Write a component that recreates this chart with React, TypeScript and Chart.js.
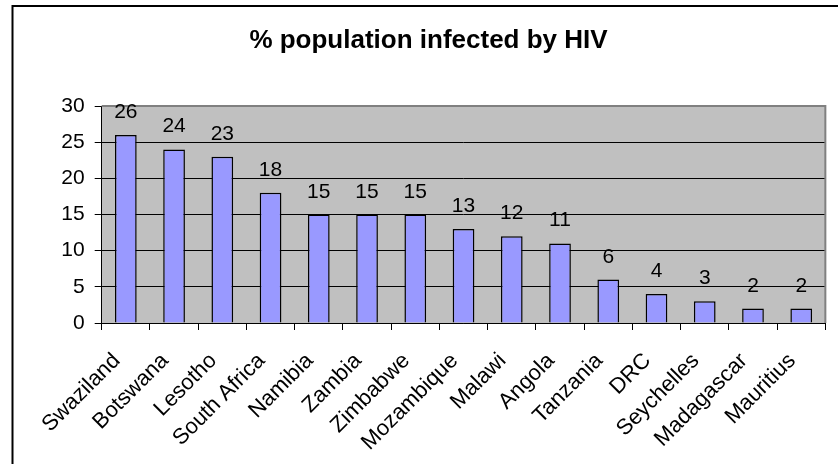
import React, { useEffect, useRef } from "react";
import { Chart, registerables } from "chart.js";

Chart.register(...registerables);

const countries = [
  "Swaziland", "Botswana", "Lesotho", "South Africa", "Namibia", "Zambia", "Zimbabwe",
  "Mozambique", "Malawi", "Angola", "Tanzania", "DRC", "Seychelles", "Madagascar", "Mauritius",
];
const infectedPercent = [26, 24, 23, 18, 15, 15, 15, 13, 12, 11, 6, 4, 3, 2, 2];
const yTicks = [0, 5, 10, 15, 20, 25, 30];
const chartTitle = "% population infected by HIV";

const FONT = "'Liberation Sans', Arial, sans-serif";

export default function App() {
  const ref = useRef<HTMLCanvasElement>(null);

  useEffect(() => {
    if (!ref.current) return;

    const decor = {
      id: "decor",
      beforeDraw(chart: any) {
        const { ctx, chartArea: a } = chart;
        ctx.save();
        ctx.fillStyle = "#C0C0C0";
        ctx.fillRect(a.left, a.top, a.right - a.left, a.bottom - a.top);
        ctx.restore();
      },
      beforeDatasetsDraw(chart: any) {
        const { ctx, chartArea: a } = chart;
        ctx.save();
        ctx.strokeStyle = "#808080";
        ctx.lineWidth = 2;
        ctx.beginPath();
        ctx.moveTo(a.left, a.top);
        ctx.lineTo(a.right, a.top);
        ctx.lineTo(a.right, a.bottom);
        ctx.stroke();
        ctx.restore();
      },
      afterDatasetsDraw(chart: any) {
        const { ctx } = chart;
        const meta = chart.getDatasetMeta(0);
        ctx.save();
        ctx.fillStyle = "#000";
        ctx.font = `21px ${FONT}`;
        ctx.textAlign = "center";
        ctx.textBaseline = "alphabetic";
        meta.data.forEach((bar: any, i: number) => {
          ctx.fillText(String(infectedPercent[i]), bar.x, bar.y - 17);
        });
        ctx.restore();
      },
      afterDraw(chart: any) {
        const { ctx } = chart;
        ctx.save();
        ctx.strokeStyle = "#000";
        ctx.lineWidth = 2;
        ctx.strokeRect(12.5, 6, 1000, 1000);
        ctx.restore();
      },
    };

    const chart = new Chart(ref.current, {
      type: "bar",
      data: {
        labels: countries,
        datasets: [
          {
            data: infectedPercent,
            backgroundColor: "#9999FF",
            borderColor: "#000",
            borderWidth: 1.5,
            categoryPercentage: 1,
            barPercentage: 0.45,
          },
        ],
      },
      options: {
        animation: false,
        responsive: false,
        layout: { padding: { left: 22, right: 3, top: 0, bottom: 0 } },
        plugins: {
          legend: { display: false },
          tooltip: { enabled: false },
          title: {
            display: true,
            text: chartTitle,
            color: "#000",
            font: { family: FONT, size: 26, weight: "bold", lineHeight: 1.2 },
            padding: { top: 25, bottom: 49.8 },
          },
        },
        scales: {
          x: {
            type: "category",
            offset: true,
            grid: {
              offset: true,
              drawOnChartArea: false,
              drawTicks: true,
              tickLength: 7,
              color: "#000",
            },
            border: { color: "#000", width: 1 },
            ticks: {
              autoSkip: false,
              maxRotation: 45,
              minRotation: 45,
              padding: 18,
              labelOffset: -9,
              color: "#000",
              font: { family: FONT, size: 22 },
            },
            afterFit: (scale: any) => {
              scale.height = 141;
            },
          },
          y: {
            min: 0,
            max: 30,
            grid: { color: "#000", lineWidth: 1, drawTicks: true, tickLength: 7 },
            border: { color: "#000", width: 1 },
            ticks: {
              stepSize: 5,
              padding: 10,
              color: "#000",
              font: { family: FONT, size: 21 },
            },
            afterBuildTicks: (scale: any) => {
              scale.ticks = yTicks.map((v) => ({ value: v }));
            },
            afterFit: (scale: any) => {
              scale.width = 79.7;
            },
          },
        },
      },
      plugins: [decor],
    } as any);

    return () => chart.destroy();
  }, []);

  return (
    <div style={{ position: "absolute", left: 0, top: 0, width: 838, height: 464, overflow: "hidden", background: "#fff" }}>
      <canvas ref={ref} width={838} height={464} />
    </div>
  );
}
